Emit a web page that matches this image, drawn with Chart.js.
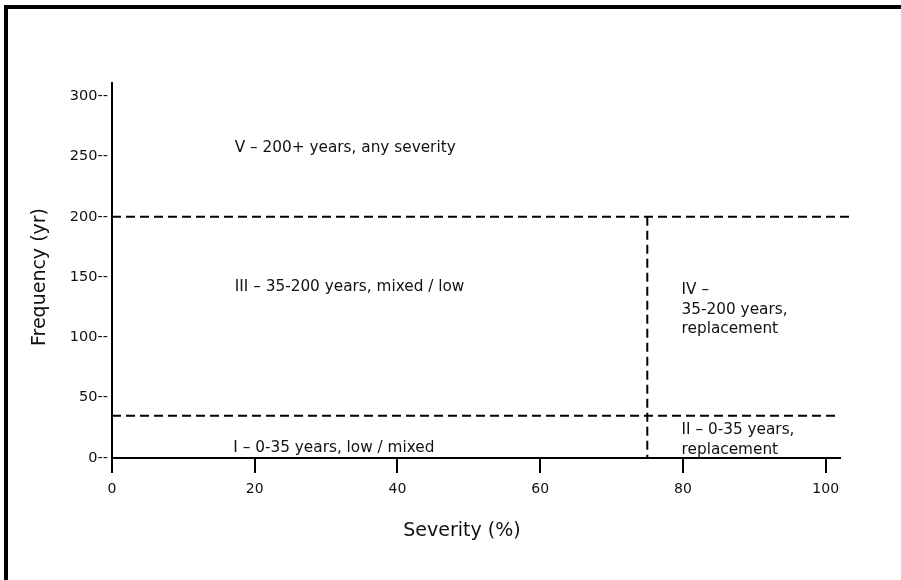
<!DOCTYPE html>
<html>
<head>
<meta charset="utf-8">
<script src="https://cdn.jsdelivr.net/npm/chart.js@4"></script>
<style>
  html, body { margin: 0; padding: 0; background: #fff; }
  #wrap { position: relative; width: 901px; height: 580px; overflow: hidden; }
  #frame { position: absolute; left: 4px; top: 5px; width: 1000px; height: 1000px;
           border-left: 4px solid #000; border-top: 4px solid #000; }
  canvas { position: absolute; left: 0; top: 0; }
</style>
</head>
<body>
<div id="wrap">
  <div id="frame"></div>
  <canvas id="regimeChart" width="901" height="580"></canvas>
</div>
<script>
"use strict"

// grenser mellom regimene
const severityCut = 75;
const frequencyCuts = [35, 200];
const xTicks = [0, 20, 40, 60, 80, 100];
const yTicks = [0, 50, 100, 150, 200, 250, 300];
const xTitle = "Severity (%)";
const yTitle = "Frequency (yr)";

// tekst i hvert felt (x, y i dataenheter)
const regimeText = [
  { x: 17.2, y: 257, lines: ["V \u2013 200+ years, any severity"] },
  { x: 17.2, y: 142, lines: ["III \u2013 35-200 years, mixed / low"] },
  { x: 79.8, y: 123, lines: ["IV \u2013", "35-200 years,", "replacement"] },
  { x: 79.8, y: 15, lines: ["II \u2013 0-35 years,", "replacement"] },
  { x: 17.0, y: 8.3, lines: ["I \u2013 0-35 years, low / mixed"] }
];

const dashed = {
  borderColor: "#000",
  borderWidth: 2,
  borderDash: [9, 5],
  pointRadius: 0,
  fill: false,
  clip: false
};

// skriver teksten i feltene og aksetitlene
const regimeLabels = {
  id: "regimeLabels",
  afterDraw(chart) {
    const ctx = chart.ctx;
    const xs = chart.scales.x;
    const ys = chart.scales.y;
    ctx.save();
    ctx.font = "15.3px 'DejaVu Sans'";
    ctx.fillStyle = "#111";
    ctx.textAlign = "left";
    ctx.textBaseline = "middle";
    regimeText.forEach(t => {
      const px = xs.getPixelForValue(t.x);
      const py = ys.getPixelForValue(t.y);
      const start = py - (t.lines.length - 1) * 19.5 / 2;
      t.lines.forEach((line, i) => ctx.fillText(line, px, start + i * 19.5));
    });

    ctx.font = "19px 'DejaVu Sans'";
    ctx.textAlign = "center";
    ctx.fillText(xTitle, 462, 531);
    ctx.translate(40, 277);
    ctx.rotate(-Math.PI / 2);
    ctx.fillText(yTitle, 0, 0);
    ctx.restore();
  }
};

new Chart(document.getElementById("regimeChart"), {
  type: "line",
  data: {
    datasets: [
      Object.assign({ data: [{ x: 0, y: frequencyCuts[1] }, { x: 103.7, y: frequencyCuts[1] }] }, dashed),
      Object.assign({ data: [{ x: 0, y: frequencyCuts[0] }, { x: 102, y: frequencyCuts[0] }] }, dashed),
      Object.assign({ data: [{ x: severityCut, y: frequencyCuts[1] }, { x: severityCut, y: 0 }] }, dashed)
    ]
  },
  options: {
    responsive: false,
    animation: false,
    layout: { padding: { top: 83, right: 61, left: 0, bottom: 0 } },
    plugins: { legend: { display: false }, tooltip: { enabled: false } },
    scales: {
      x: {
        type: "linear",
        min: 0,
        max: 102,
        afterFit: s => { s.height = 122; },
        afterBuildTicks: s => { s.ticks = xTicks.map(v => ({ value: v })); },
        ticks: { color: "#111", font: { family: "DejaVu Sans", size: 14 }, padding: 8, maxRotation: 0 },
        grid: { drawOnChartArea: false, drawTicks: true, tickLength: 15, color: "#000", lineWidth: 2 },
        border: { display: true, color: "#000", width: 2 }
      },
      y: {
        type: "linear",
        min: 0,
        max: 311,
        afterFit: s => { s.width = 112; },
        afterBuildTicks: s => { s.ticks = yTicks.map(v => ({ value: v })); },
        ticks: { color: "#111", font: { family: "DejaVu Sans", size: 14.5 }, padding: 4, callback: v => v + "--" },
        grid: { drawOnChartArea: false, drawTicks: false, color: "#000", lineWidth: 2 },
        border: { display: true, color: "#000", width: 2 }
      }
    }
  },
  plugins: [regimeLabels]
});
</script>
</body>
</html>
